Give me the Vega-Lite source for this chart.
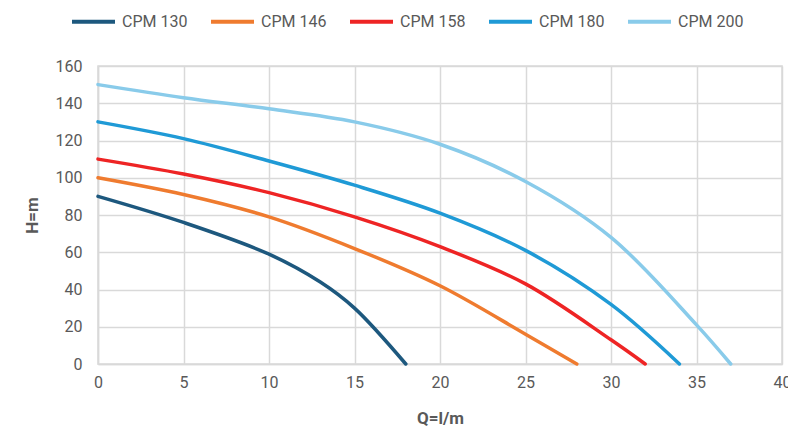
{
  "$schema": "https://vega.github.io/schema/vega-lite/v6.json",
  "width": 684,
  "height": 298,
  "autosize": {"type": "none"},
  "padding": {"left": 98, "top": 66, "right": 6, "bottom": 65},
  "background": "white",
  "config": {
    "font": "Roboto",
    "view": {"stroke": "#d9d9d9", "strokeWidth": 1.5},
    "axis": {"gridColor": "#d9d9d9", "gridWidth": 1.5, "domainColor": "#d9d9d9", "domainWidth": 1.5, "ticks": false, "labelColor": "#595959", "labelFontSize": 16, "labelFlush": false, "titleColor": "#595959", "titleFontSize": 17, "titleFontWeight": "bold"}
  },
  "data": {
    "values": [
      {"series": "CPM 130", "Q": 0, "H": 90},
      {"series": "CPM 130", "Q": 5, "H": 76},
      {"series": "CPM 130", "Q": 10, "H": 59},
      {"series": "CPM 130", "Q": 13, "H": 44},
      {"series": "CPM 130", "Q": 15, "H": 30},
      {"series": "CPM 130", "Q": 18, "H": 0},
      {"series": "CPM 146", "Q": 0, "H": 100},
      {"series": "CPM 146", "Q": 5, "H": 91},
      {"series": "CPM 146", "Q": 10, "H": 79},
      {"series": "CPM 146", "Q": 15, "H": 62},
      {"series": "CPM 146", "Q": 20, "H": 42},
      {"series": "CPM 146", "Q": 25, "H": 16},
      {"series": "CPM 146", "Q": 28, "H": 0},
      {"series": "CPM 158", "Q": 0, "H": 110},
      {"series": "CPM 158", "Q": 5, "H": 102},
      {"series": "CPM 158", "Q": 10, "H": 92},
      {"series": "CPM 158", "Q": 15, "H": 79},
      {"series": "CPM 158", "Q": 20, "H": 63},
      {"series": "CPM 158", "Q": 25, "H": 43},
      {"series": "CPM 158", "Q": 30, "H": 13},
      {"series": "CPM 158", "Q": 32, "H": 0},
      {"series": "CPM 180", "Q": 0, "H": 130},
      {"series": "CPM 180", "Q": 5, "H": 121},
      {"series": "CPM 180", "Q": 10, "H": 109},
      {"series": "CPM 180", "Q": 15, "H": 96},
      {"series": "CPM 180", "Q": 20, "H": 81},
      {"series": "CPM 180", "Q": 25, "H": 61},
      {"series": "CPM 180", "Q": 30, "H": 32},
      {"series": "CPM 180", "Q": 34, "H": 0},
      {"series": "CPM 200", "Q": 0, "H": 150},
      {"series": "CPM 200", "Q": 5, "H": 143},
      {"series": "CPM 200", "Q": 10, "H": 137},
      {"series": "CPM 200", "Q": 15, "H": 130},
      {"series": "CPM 200", "Q": 20, "H": 118},
      {"series": "CPM 200", "Q": 25, "H": 98},
      {"series": "CPM 200", "Q": 30, "H": 68},
      {"series": "CPM 200", "Q": 35, "H": 21},
      {"series": "CPM 200", "Q": 37, "H": 0}
    ]
  },
  "mark": {"type": "line", "interpolate": "catmull-rom", "strokeWidth": 3.5, "strokeCap": "round"},
  "encoding": {
    "x": {"field": "Q", "type": "quantitative", "scale": {"domain": [0, 40], "nice": false}, "axis": {"title": "Q=l/m", "values": [0,5,10,15,20,25,30,35,40], "labelPadding": 10, "titlePadding": 20}},
    "y": {"field": "H", "type": "quantitative", "scale": {"domain": [0, 160], "nice": false}, "axis": {"title": "H=m", "values": [0,20,40,60,80,100,120,140,160], "labelPadding": 16, "titlePadding": 14}},
    "color": {
      "field": "series", "type": "nominal",
      "scale": {"domain": ["CPM 130", "CPM 146", "CPM 158", "CPM 180", "CPM 200"], "range": ["#1d587e", "#ef7b2f", "#ee2424", "#1f9ad6", "#89cbea"]},
      "legend": {"title": null, "orient": "none", "direction": "horizontal", "legendX": -28, "legendY": -68, "symbolType": "stroke", "symbolSize": 1849, "symbolStrokeWidth": 4, "labelFontSize": 16, "labelColor": "#595959", "columnPadding": 15, "labelOffset": 5}
    }
  }
}
